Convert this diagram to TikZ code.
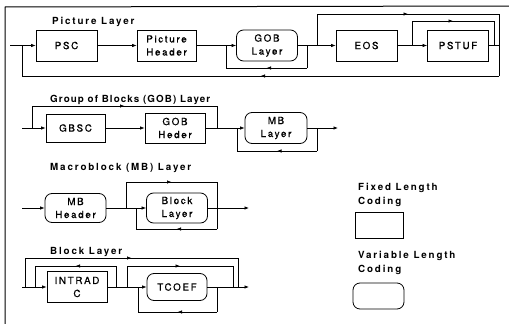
\documentclass[tikz,border=0pt]{standalone}
\usepackage{fontspec}
\setmainfont{TeX Gyre Heros}
\newfontfamily\boxfont[LetterSpace=17,FakeBold=0.7]{TeX Gyre Heros}
\newfontfamily\ttlfont[LetterSpace=19]{TeX Gyre Heros}
\newfontfamily\ttlfontnarrow[LetterSpace=11]{TeX Gyre Heros}
\usetikzlibrary{arrows.meta,decorations.markings}
\tikzset{
  fixbox/.style={draw, line width=0.8pt, rectangle, minimum width=61pt, minimum height=31pt,
    align=center, inner sep=0pt, font=\boxfont\fontsize{9.8}{13}\selectfont},
  varbox/.style={fixbox, rounded corners=7pt},
  ttl/.style={anchor=west, inner sep=0pt, font=\ttlfont\bfseries\fontsize{9.8}{13.5}\selectfont},
  ttlnarrow/.style={ttl, font=\ttlfontnarrow\bfseries\fontsize{9.8}{13.5}\selectfont},
  ln/.style={line width=0.7pt},
  arr/.style={ln, -{Latex[length=4.5pt,width=3.5pt]}},
  midarr/.style={ln, postaction={decorate},
    decoration={markings, mark=at position 0.5 with {\arrow{Latex[length=4.5pt,width=3.5pt]}}}},
}
\begin{document}
\begin{tikzpicture}[x=1pt,y=-1pt]
\useasboundingbox (0,0) rectangle (509,324);
% frame
\coordinate (fbl) at (5,324); \coordinate (ftl) at (5,7); \coordinate (ftr) at (509,6);
\draw[line width=1pt] (fbl) -- (ftl) -- (ftr);

% ---------------- Picture layer
\node[ttl] (t1) at (52,22) {Picture Layer};
\coordinate (in1) at (10,45.5);
\node[fixbox] (PSC) at (66.5,45.5) {PSC};
\node[fixbox, minimum width=59pt] (PH) at (166.5,45.5) {Picture\\Header};
\node[varbox] (GOBL) at (267,45.5) {GOB\\Layer};
\node[fixbox] (EOS) at (366.5,45.5) {EOS};
\node[fixbox] (PSTUF) at (458,45.5) {PSTUF};
\coordinate (a1) at (22,45.5);
\coordinate (a2) at (226,45.5);
\coordinate (a3) at (307,45.5);
\coordinate (a4) at (317,45.5);
\coordinate (a5) at (412,45.5);
\coordinate (a6) at (494,45.5);
\coordinate (a7) at (499,45.5);
\draw[ln] (in1) -- (a1);
\draw[arr] (a1) -- (PSC);
\draw[arr] (PSC) -- (PH);
\draw[arr] (PH) -- (GOBL);
\draw[arr] (GOBL) -- (EOS);
\draw[arr] (EOS) -- (PSTUF);
\draw[ln] (PSTUF) -- (a7);
% GOB repeat loop
\coordinate (g1) at (307,68); \coordinate (g2) at (226,68);
\draw[ln] (a3) -- (g1); \draw[midarr] (g1) -- (g2); \draw[ln] (g2) -- (a2);
% bypass EOS+PSTUF
\coordinate (b1) at (317,14); \coordinate (b2) at (499,14);
\draw[ln] (a4) -- (b1); \draw[midarr] (b1) -- (b2); \draw[ln] (b2) -- (a7);
% PSTUF bypass
\coordinate (p1) at (412,21); \coordinate (p2) at (494,21);
\draw[ln] (a5) -- (p1); \draw[midarr] (p1) -- (p2); \draw[ln] (p2) -- (a6);
% feedback
\coordinate (f1) at (499,76); \coordinate (f2) at (22,76);
\draw[ln] (a7) -- (f1); \draw[midarr] (f1) -- (f2); \draw[ln] (f2) -- (a1);

% ---------------- GOB layer
\node[ttlnarrow] (t2) at (50,100) {Group of Blocks (GOB) Layer};
\coordinate (in2) at (22,128);
\node[fixbox, minimum width=59pt, minimum height=28pt] (GBSC) at (75.5,128) {GBSC};
\node[fixbox, minimum width=60pt, minimum height=30pt] (GOBH) at (175,128) {GOB\\Heder};
\node[varbox, minimum width=62pt] (MBL) at (276,128) {MB\\Layer};
\coordinate (c1) at (32,128);
\coordinate (c2) at (217,128);
\coordinate (c3) at (237,128);
\coordinate (c4) at (317,128);
\coordinate (out2) at (338,128);
\draw[ln] (in2) -- (c1);
\draw[arr] (c1) -- (GBSC);
\draw[arr] (GBSC) -- (GOBH);
\draw[arr] (GOBH) -- (MBL);
\draw[arr] (MBL) -- (out2);
\coordinate (d1) at (32,106); \coordinate (d2) at (217,106);
\draw[ln] (c1) -- (d1); \draw[midarr] (d1) -- (d2); \draw[ln] (d2) -- (c2);
\coordinate (e1) at (317,151); \coordinate (e2) at (237,151);
\draw[ln] (c4) -- (e1); \draw[midarr] (e1) -- (e2); \draw[ln] (e2) -- (c3);

% ---------------- MB layer
\node[ttl] (t3) at (50,168) {Macroblock (MB) Layer};
\coordinate (in3) at (22,208);
\node[varbox, minimum height=29pt] (MBH) at (75.5,208) {MB\\Header};
\node[varbox, minimum height=30pt] (BL) at (177,208) {Block\\Layer};
\coordinate (m1) at (126,208);
\coordinate (m2) at (136,208);
\coordinate (m3) at (217,208);
\coordinate (out3) at (249,208);
\draw[arr] (in3) -- (MBH);
\draw[arr] (MBH) -- (BL);
\draw[arr] (BL) -- (out3);
\coordinate (n1) at (126,182); \coordinate (n2) at (217,182);
\draw[ln] (m1) -- (n1); \draw[midarr] (n1) -- (n2); \draw[ln] (n2) -- (m3);
\coordinate (o1) at (217,229); \coordinate (o2) at (136,229);
\draw[ln] (m3) -- (o1); \draw[midarr] (o1) -- (o2); \draw[ln] (o2) -- (m2);

% ---------------- Block layer
\node[ttl] (t4) at (50,252) {Block Layer};
\coordinate (in4) at (22,287);
\node[fixbox, minimum width=60pt, minimum height=31pt] (INTRA) at (77,287) {INTRAD\\C};
\node[varbox, minimum width=60pt, minimum height=27pt] (TCOEF) at (177,287) {TCOEF};
\coordinate (k1) at (25,287);
\coordinate (k2) at (35,287);
\coordinate (k3) at (116,287);
\coordinate (k4) at (127,287);
\coordinate (k5) at (138,287);
\coordinate (k6) at (217,287);
\coordinate (k7) at (233,287);
\coordinate (k8) at (238,287);
\coordinate (out4) at (249,287);
\draw[ln] (in4) -- (k2);
\draw[arr] (k2) -- (INTRA);
\draw[arr] (INTRA) -- (TCOEF);
\draw[arr] (TCOEF) -- (out4);
% outer bypass
\coordinate (q1) at (25,258); \coordinate (q2) at (238,258);
\draw[ln] (k1) -- (q1); \draw[midarr] (q1) -- (q2); \draw[ln] (q2) -- (k8);
% INTRADC loop
\coordinate (r1) at (116,266); \coordinate (r2) at (35,266);
\draw[ln] (k3) -- (r1); \draw[midarr] (r1) -- (r2); \draw[ln] (r2) -- (k2);
% TCOEF bypass and repeat
\coordinate (s1) at (127,266); \coordinate (s2) at (233,266);
\draw[ln] (k4) -- (s1); \draw[midarr] (s1) -- (s2); \draw[ln] (s2) -- (k7);
\coordinate (u1) at (217,312); \coordinate (u2) at (138,312);
\draw[ln] (k6) -- (u1); \draw[midarr] (u1) -- (u2); \draw[ln] (u2) -- (k5);

% ---------------- Legend
\node[ttl, align=left, anchor=north west] (l1) at (358,183) {Fixed Length\\Coding};
\node[fixbox, minimum width=48pt, minimum height=26pt] (lf) at (379,225) {};
\node[ttl, align=left, anchor=north west] (l2) at (358,251) {Variable Length\\Coding};
\node[varbox, minimum width=51pt, minimum height=26pt] (lv) at (378.5,296) {};
\end{tikzpicture}
\end{document}
